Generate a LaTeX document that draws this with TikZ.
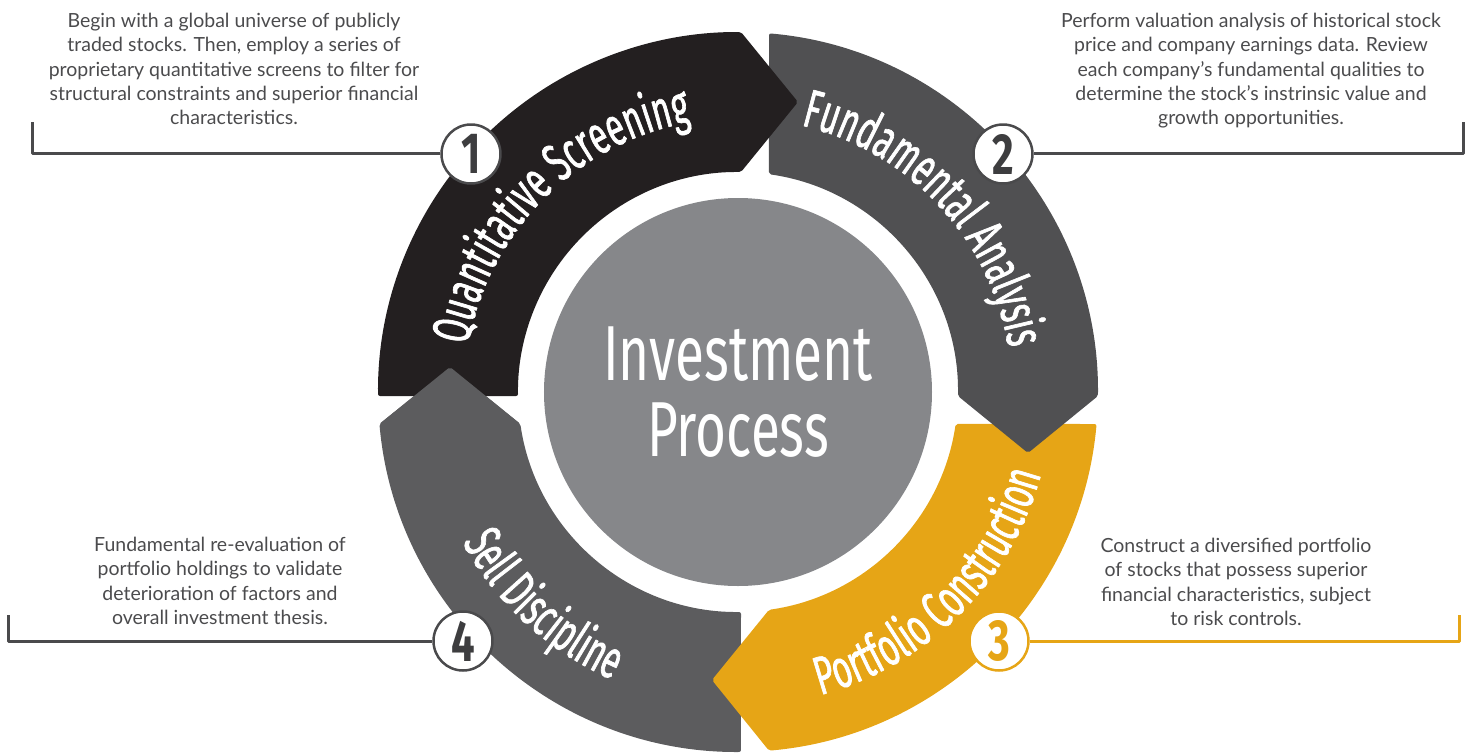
\documentclass[tikz,border=0pt]{standalone}
\usepackage{fontspec}
\setmainfont{Lato}
\newfontfamily\ringfont[FakeStretch=0.6,FakeBold=1.2]{Fira Sans}
\newfontfamily\hubfont[FakeStretch=0.68]{Fira Sans}
\newfontfamily\numfont[FakeStretch=0.72]{Fira Sans}
\usetikzlibrary{decorations.text}
\usetikzlibrary{positioning}

\definecolor{segA}{HTML}{231F20}
\definecolor{segB}{HTML}{505052}
\definecolor{segC}{HTML}{E6A516}
\definecolor{segD}{HTML}{5C5C5E}
\definecolor{hubgray}{HTML}{86878A}
\definecolor{leadgray}{HTML}{4A4A4C}
\definecolor{descgray}{HTML}{4B4B4D}
\definecolor{numgray}{HTML}{3D3D3F}

\tikzset{
  hub/.style={circle,fill=hubgray,minimum size=388pt,inner sep=0pt,align=center,text=white,
    font=\hubfont\fontsize{78}{76}\selectfont},
  ringtext/.style={decorate,decoration={text along path,text align=center,text color=white,
    text={|\ringfont\fontsize{54}{54}\selectfont|#1}}},
  stepnum/.style={circle,draw=leadgray,line width=2.5pt,fill=white,minimum size=59pt,inner sep=0pt,
    text=numgray,font=\numfont\bfseries\fontsize{58}{58}\selectfont},
  desc/.style={align=center,anchor=north,inner sep=0pt,text=descgray,
    font=\fontsize{19.5}{24.25}\selectfont},
  lead/.style={line width=3pt,draw=leadgray}
}

\begin{document}
\begin{tikzpicture}[x=1pt,y=1pt,line join=round]
\useasboundingbox (-738,-361) rectangle (733,392);

\node[hub] (hub) at (0,0) {Investment\\Process};

\fill[segD,rounded corners=2pt] (270.477:360) arc[start angle=270.477,end angle=185.10,radius=360] -- (-288,25) -- (188.36:220) arc[start angle=188.36,end angle=270.781,radius=220] -- cycle;
\fill[segC,rounded corners=2pt] (-5.10:360) arc[start angle=-5.10,end angle=-85.06,radius=360] -- (-26,-288) -- (-81.90:220) arc[start angle=-81.90,end angle=-8.36,radius=220] -- cycle;
\fill[segB,rounded corners=2pt] (85.06:360) arc[start angle=85.06,end angle=-0.637,radius=360] -- (290,-61) -- (-1.042:220) arc[start angle=-1.042,end angle=81.90,radius=220] -- cycle;
\fill[segA,rounded corners=2pt] (180.637:360) arc[start angle=180.637,end angle=89.523,radius=360] -- (60,290) -- (89.219:220) arc[start angle=89.219,end angle=181.042,radius=220] -- cycle;
\fill[segD,rounded corners=2pt] (-358.57,-32) -- (-288,25) -- (-217.7,-32) -- cycle;

\path[ringtext=Quantitative Screening] (175:274) arc[start angle=175,end angle=95,radius=274];
\path[ringtext=Fundamental Analysis] (85:274) arc[start angle=85,end angle=1,radius=274];
\path[ringtext=Portfolio Construction] (-85:314) arc[start angle=-85,end angle=-5,radius=314];
\path[ringtext=Sell Discipline] (187:314) arc[start angle=187,end angle=268,radius=314];

\coordinate (e1) at (-705,270);
\coordinate (e2) at (725,270);
\coordinate (e3) at (721,-223);
\coordinate (e4) at (-729,-223);

\node[stepnum] (n1) at (-267,238) {1};
\node[stepnum] (n2) at (265,238) {2};
\node[stepnum,draw=segC,text=segC] (n3) at (261,-249) {3};
\node[stepnum] (n4) at (-275,-249) {4};

\draw[lead] (n1.west) -- (e1 |- n1) -- (e1);
\draw[lead] (n2.east) -- (e2 |- n2) -- (e2);
\draw[lead,draw=segC] (n3.east) -- (e3 |- n3) -- (e3);
\draw[lead] (n4.west) -- (e4 |- n4) -- (e4);

\node[desc] (d1) at (-504,379) {Begin with a global universe of publicly\\traded stocks. Then, employ a series of\\proprietary quantitative screens to filter for\\structural constraints and superior financial\\characteristics.};
\node[desc] (d2) at (513,379) {Perform valuation analysis of historical stock\\price and company earnings data. Review\\each company’s fundamental qualities to\\determine the stock’s instrinsic value and\\growth opportunities.};
\node[desc] (d3) at (498,-146) {Construct a diversified portfolio\\of stocks that possess superior\\financial characteristics, subject\\to risk controls.};
\node[desc] (d4) at (-518,-145) {Fundamental re-evaluation of\\portfolio holdings to validate\\deterioration of factors and\\overall investment thesis.};
\end{tikzpicture}
\end{document}
